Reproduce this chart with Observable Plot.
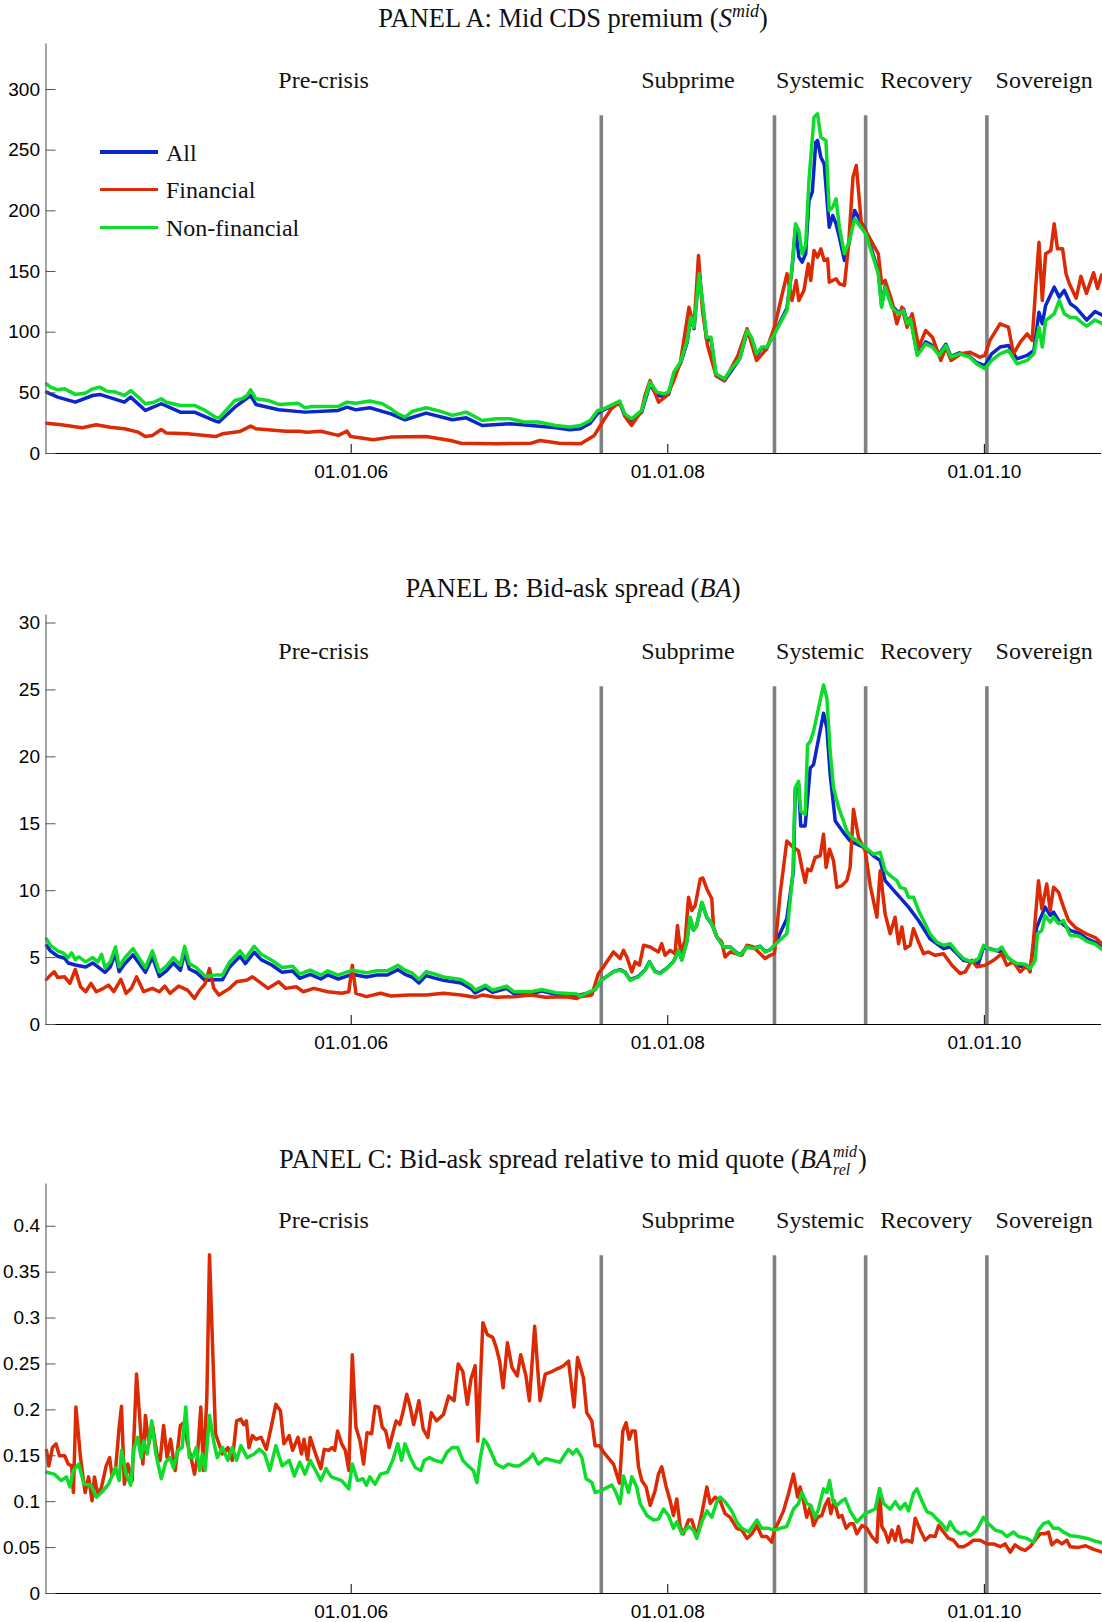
<!DOCTYPE html>
<html><head><meta charset="utf-8">
<script src="https://cdn.jsdelivr.net/npm/d3@7"></script>
<script src="https://cdn.jsdelivr.net/npm/@observablehq/plot@0.6"></script>
<style>
body{margin:0;background:#fff;}
#wrap{position:relative;width:1102px;height:1622px;overflow:hidden;background:#fff;}
.panel{position:absolute;left:0;width:1102px;height:483px;z-index:1;}
.title{position:absolute;z-index:3;left:45px;width:1056px;text-align:center;font-family:"Liberation Serif","Times New Roman",serif;font-size:26.5px;color:#111;line-height:30px;white-space:nowrap;}
.ss{display:inline-block;font-size:16px;line-height:18px;vertical-align:-7px;text-align:left;margin-left:1px;margin-right:1px;}
.ss span{display:block;height:18px;}
.leg{position:absolute;z-index:3;left:100px;height:30px;display:flex;align-items:center;font-family:"Liberation Serif","Times New Roman",serif;font-size:24px;color:#111;}
.leg .sw{width:58px;height:3.6px;margin-right:8px;}
</style></head><body><div id="wrap"></div>
<script>
// ---------- shared ----------
const xDomain = [2004.072, 2010.74];
const xTicks = [2006, 2008, 2010];
const xTickLabels = ["01.01.06", "01.01.08", "01.01.10"];
const periodBreaks = [2007.58, 2008.674, 2009.25, 2010.016];
const periodNames = ["Pre-crisis", "Subprime", "Systemic", "Recovery", "Sovereign"];
const seriesNames = ["All", "Financial", "Non-financial"];
const seriesColors = ["#0b26c9", "#dc2a04", "#0ddc2b"];

// ---------- PANEL A : mid CDS premium ----------
const yTicksA = [0, 50, 100, 150, 200, 250, 300];
const yTickLabelsA = ["0", "50", "100", "150", "200", "250", "300"];
const yMaxA = 337.5;
const A_all = [[2004.075,50.6],[2004.146,46.5],[2004.257,42.3],[2004.367,47.8],[2004.412,48.7],[2004.567,42.3],[2004.607,46.5],[2004.700,35.5],[2004.800,41.0],[2004.921,34.1],[2005.010,34.1],[2005.143,26.7],[2005.165,25.9],[2005.265,38.2],[2005.365,47.8],[2005.398,40.4],[2005.542,36.0],[2005.708,34.1],[2005.919,35.5],[2005.974,38.2],[2006.030,36.0],[2006.118,37.7],[2006.251,32.7],[2006.340,27.8],[2006.473,33.3],[2006.639,27.8],[2006.727,29.4],[2006.827,23.1],[2007.004,24.5],[2007.137,23.1],[2007.293,21.2],[2007.381,19.5],[2007.448,20.4],[2007.510,25],
[2007.557,33],[2007.581,35],[2007.696,42],[2007.728,31],[2007.771,27],[2007.835,34],[2007.888,57],[2007.931,48],[2007.974,47],[2008.006,49],[2008.038,65],[2008.080,74],[2008.123,92],[2008.145,112],[2008.166,103],[2008.198,150],[2008.219,124],[2008.245,94],[2008.273,94],[2008.305,64],[2008.358,60],[2008.401,68],[2008.454,78],[2008.501,100],[2008.529,95],[2008.561,81],[2008.593,87],[2008.625,87],[2008.674,99],[2008.753,120],[2008.785,152],[2008.807,186.5],[2008.828,162],[2008.849,157.7],[2008.871,164.6],[2008.892,208.5],[2008.913,215.4],[2008.935,256.6],[2008.946,258],[2008.967,244.2],[2008.988,238.7],[2009.020,186.5],[2009.042,196.2],[2009.063,189.3],[2009.084,178.3],[2009.116,159.1],[2009.148,175],[2009.180,200.3],[2009.251,183.8],[2009.330,150],[2009.351,122],[2009.373,138],[2009.415,122],[2009.458,116],[2009.490,119],[2009.512,108],[2009.533,112],[2009.576,82],[2009.629,92],[2009.672,89],[2009.715,82],[2009.757,90],[2009.789,80],[2009.843,83],[2009.907,80],[2009.950,75],[2010.003,72.5],[2010.046,82.2],[2010.099,87.7],[2010.152,89],[2010.206,78],[2010.270,80.8],[2010.313,84.9],[2010.345,116.5],[2010.366,106.9],[2010.387,122],[2010.441,137.1],[2010.473,128.9],[2010.505,134.4],[2010.543,123.4],[2010.580,120],[2010.647,110],[2010.699,117],[2010.745,114]];
const A_fin = [[2004.075,25.0],[2004.168,23.7],[2004.300,21.2],[2004.390,23.7],[2004.478,21.7],[2004.567,20.4],[2004.655,17.6],[2004.700,14.0],[2004.745,14.9],[2004.800,19.8],[2004.833,16.8],[2004.966,16.2],[2005.143,14.0],[2005.187,16.2],[2005.298,18.2],[2005.365,22.6],[2005.398,20.4],[2005.586,18.4],[2005.675,18.4],[2005.720,17.6],[2005.808,18.4],[2005.918,14.9],[2005.974,18.4],[2005.996,14.0],[2006.140,11.3],[2006.250,13.5],[2006.473,14.0],[2006.628,10.7],[2006.694,8.5],[2006.916,8.0],[2007.137,8.5],[2007.193,10.7],[2007.315,8.5],[2007.450,8.0],
[2007.536,14.9],[2007.581,24.5],[2007.643,36.8],[2007.696,42.3],[2007.739,28.6],[2007.771,23.1],[2007.835,35.5],[2007.856,47.8],[2007.888,60.2],[2007.942,42.3],[2007.995,47.8],[2008.038,60.2],[2008.080,75.3],[2008.134,120.6],[2008.166,104.1],[2008.194,163.2],[2008.219,117.9],[2008.251,89.0],[2008.305,64.3],[2008.358,60.2],[2008.443,80.8],[2008.501,102.8],[2008.561,76.7],[2008.625,86.3],[2008.674,104.1],[2008.753,148.1],[2008.785,126.1],[2008.811,142.6],[2008.828,126.1],[2008.860,134.4],[2008.888,156.3],[2008.903,142.6],[2008.924,167.3],[2008.946,161.8],[2008.967,168.7],[2008.988,159.1],[2009.010,160.5],[2009.020,141.2],[2009.063,144.0],[2009.084,139.9],[2009.116,138.5],[2009.142,171.4],[2009.170,227.8],[2009.191,237.4],[2009.223,189.3],[2009.266,179.7],[2009.330,164.6],[2009.351,139.9],[2009.373,142.6],[2009.415,126.1],[2009.447,106.9],[2009.479,120.6],[2009.512,104.1],[2009.544,115.1],[2009.586,87.7],[2009.629,101.4],[2009.672,95.9],[2009.725,76.7],[2009.757,87.7],[2009.789,76.7],[2009.853,82.2],[2009.907,83.5],[2009.971,79.4],[2010.003,80.8],[2010.035,93.2],[2010.099,106.9],[2010.152,104.1],[2010.184,82.2],[2010.227,91.8],[2010.270,98.6],[2010.302,93.2],[2010.323,134.4],[2010.345,174.2],[2010.366,126.1],[2010.387,164.6],[2010.420,167.3],[2010.441,189.3],[2010.462,168.7],[2010.494,168.7],[2010.516,148.1],[2010.537,139.9],[2010.580,128],[2010.610,146],[2010.645,132],[2010.690,149],[2010.715,136],[2010.740,147]];
const A_nonfin = [[2004.075,57.4],[2004.101,54.7],[2004.146,52.5],[2004.190,53.3],[2004.257,48.7],[2004.323,49.8],[2004.367,53.3],[2004.412,54.7],[2004.456,51.4],[2004.511,50.6],[2004.567,47.8],[2004.607,51.9],[2004.655,46.5],[2004.700,41.0],[2004.755,42.3],[2004.800,45.1],[2004.833,42.3],[2004.921,39.6],[2005.010,39.6],[2005.077,35.5],[2005.143,30.0],[2005.165,29.2],[2005.209,35.5],[2005.265,43.7],[2005.309,45.1],[2005.342,47.8],[2005.365,52.5],[2005.398,45.1],[2005.475,43.7],[2005.542,40.4],[2005.664,41.5],[2005.708,37.7],[2005.752,38.8],[2005.919,38.8],[2005.974,42.3],[2006.030,41.5],[2006.118,43.2],[2006.196,41.0],[2006.251,36.8],[2006.295,32.7],[2006.340,30.0],[2006.384,34.6],[2006.473,37.7],[2006.561,34.9],[2006.639,31.4],[2006.727,34.1],[2006.827,27.2],[2006.916,28.6],[2007.004,28.6],[2007.093,25.9],[2007.182,25.9],[2007.293,23.1],[2007.381,21.8],[2007.448,23.1],[2007.510,27.2],
[2007.557,35.5],[2007.581,36.0],[2007.696,43.2],[2007.728,32.7],[2007.771,28.6],[2007.835,35.5],[2007.888,58.8],[2007.931,50.6],[2007.974,49.2],[2008.006,50.6],[2008.038,67.0],[2008.080,75.3],[2008.123,93.2],[2008.145,112.4],[2008.166,104.1],[2008.198,148.1],[2008.219,126.1],[2008.245,95.9],[2008.273,95.9],[2008.305,65.7],[2008.358,61.6],[2008.401,69.8],[2008.454,78.0],[2008.501,101.4],[2008.529,95.9],[2008.561,82.2],[2008.593,87.7],[2008.625,87.7],[2008.674,98.6],[2008.753,117.9],[2008.785,153.6],[2008.807,189.3],[2008.828,183.8],[2008.849,164.6],[2008.871,171.4],[2008.892,225.0],[2008.924,277.2],[2008.946,280.0],[2008.967,260.7],[2008.999,258.0],[2009.020,200.3],[2009.042,203.0],[2009.063,209.9],[2009.084,186.5],[2009.116,164.6],[2009.148,175.6],[2009.180,193.4],[2009.251,181.0],[2009.330,148.1],[2009.351,120.6],[2009.373,137.1],[2009.415,120.6],[2009.458,115.1],[2009.490,117.9],[2009.512,106.9],[2009.533,111.0],[2009.576,80.8],[2009.629,90.4],[2009.672,87.7],[2009.715,80.8],[2009.757,89.0],[2009.789,79.4],[2009.843,82.2],[2009.907,79.4],[2009.950,73.9],[2010.003,69.8],[2010.046,76.7],[2010.099,82.2],[2010.152,84.9],[2010.206,73.9],[2010.270,76.7],[2010.313,82.2],[2010.345,104.1],[2010.366,87.7],[2010.387,109.6],[2010.441,115.1],[2010.473,126.1],[2010.505,115.1],[2010.543,112],[2010.580,112],[2010.614,108],[2010.647,105],[2010.699,110],[2010.745,107]];

// ---------- PANEL B : bid-ask spread ----------
const yTicksB = [0, 5, 10, 15, 20, 25, 30];
const yTickLabelsB = ["0", "5", "10", "15", "20", "25", "30"];
const yMaxB = 30.6;
const B_all = [[2004.075,5.9],[2004.100,5.5],[2004.146,5.1],[2004.190,4.95],[2004.212,4.6],[2004.257,4.45],[2004.323,4.3],[2004.367,4.6],[2004.400,4.3],[2004.445,3.9],[2004.478,4.3],[2004.511,5.3],[2004.534,3.95],[2004.567,4.5],[2004.622,5.2],[2004.655,4.65],[2004.700,3.9],[2004.744,5.05],[2004.788,3.6],[2004.833,4.0],[2004.877,4.6],[2004.921,4.05],[2004.948,5.4],[2004.977,4.15],[2005.021,3.9],[2005.077,3.3],[2005.143,3.35],[2005.187,3.35],[2005.232,4.3],[2005.298,5.1],[2005.331,4.55],[2005.387,5.4],[2005.431,4.85],[2005.498,4.45],[2005.564,3.9],[2005.630,4.0],[2005.675,3.45],[2005.741,3.75],[2005.808,3.4],[2005.852,3.7],[2005.918,3.4],[2006.007,3.75],[2006.096,3.55],[2006.162,3.7],[2006.229,3.7],[2006.295,4.1],[2006.340,3.75],[2006.384,3.55],[2006.428,3.1],[2006.473,3.65],[2006.517,3.5],[2006.583,3.3],[2006.694,3.1],[2006.761,2.65],[2006.783,2.35],[2006.849,2.75],[2006.893,2.4],[2006.982,2.7],[2007.027,2.3],[2007.137,2.3],[2007.204,2.5],[2007.293,2.25],[2007.425,2.15],[2007.510,2.4],
[2007.541,2.6],[2007.579,3.3],[2007.657,3.95],[2007.699,4.1],[2007.731,3.9],[2007.762,3.35],[2007.815,3.6],[2007.857,4.1],[2007.884,4.7],[2007.920,3.95],[2007.952,3.85],[2007.994,4.2],[2008.036,4.7],[2008.068,5.55],[2008.089,4.85],[2008.120,6.2],[2008.141,8.0],[2008.162,7.05],[2008.183,7.4],[2008.215,9.1],[2008.247,8.0],[2008.278,7.5],[2008.310,6.55],[2008.352,5.8],[2008.394,5.8],[2008.426,5.45],[2008.457,5.2],[2008.500,5.8],[2008.541,5.7],[2008.584,5.85],[2008.615,5.45],[2008.647,5.6],[2008.674,5.9],[2008.752,7.9],[2008.794,11.5],[2008.805,17.5],[2008.826,18.0],[2008.840,14.84],[2008.868,14.84],[2008.900,19.17],[2008.921,19.42],[2008.984,23.26],[2009.005,22.15],[2009.026,18.68],[2009.058,15.21],[2009.110,14.34],[2009.152,13.72],[2009.194,13.47],[2009.247,13.2],[2009.300,12.6],[2009.342,12.24],[2009.373,10.75],[2009.447,9.76],[2009.521,8.77],[2009.584,7.77],[2009.657,6.41],[2009.742,5.67],[2009.784,5.8],[2009.868,4.8],[2009.963,4.55],[2009.995,5.79],[2010.110,5.42],[2010.205,4.43],[2010.289,4.18],[2010.331,7.28],[2010.384,8.77],[2010.416,8.15],[2010.437,8.4],[2010.469,7.77],[2010.542,7.03],[2010.600,6.8],[2010.650,6.4],[2010.745,5.9]];
const B_fin = [[2004.075,3.37],[2004.100,3.69],[2004.124,3.94],[2004.146,3.51],[2004.190,3.56],[2004.223,3.07],[2004.257,4.11],[2004.290,2.82],[2004.323,2.45],[2004.356,3.07],[2004.390,2.45],[2004.434,2.7],[2004.467,2.94],[2004.500,2.45],[2004.545,3.37],[2004.578,2.33],[2004.611,2.7],[2004.644,3.56],[2004.689,2.45],[2004.744,2.7],[2004.788,2.45],[2004.822,2.87],[2004.855,2.33],[2004.910,2.87],[2004.966,2.57],[2005.010,1.95],[2005.043,2.57],[2005.076,3.02],[2005.105,4.18],[2005.132,2.7],[2005.165,2.2],[2005.232,2.7],[2005.276,3.19],[2005.342,3.32],[2005.376,3.56],[2005.420,3.19],[2005.475,2.7],[2005.542,3.19],[2005.586,2.7],[2005.653,2.82],[2005.697,2.45],[2005.764,2.7],[2005.852,2.45],[2005.940,2.33],[2005.985,2.45],[2006.007,4.43],[2006.030,2.33],[2006.096,2.08],[2006.185,2.33],[2006.251,2.13],[2006.362,2.2],[2006.473,2.2],[2006.583,2.33],[2006.694,2.2],[2006.783,2.03],[2006.827,2.2],[2006.916,2.03],[2007.027,2.08],[2007.137,2.2],[2007.226,2.03],[2007.359,2.08],[2007.425,1.95],
[2007.446,2.08],[2007.520,2.2],[2007.562,3.81],[2007.594,4.31],[2007.657,5.42],[2007.699,4.93],[2007.720,5.54],[2007.741,5.05],[2007.773,3.93],[2007.794,4.68],[2007.821,4.43],[2007.847,5.92],[2007.889,5.79],[2007.941,5.42],[2007.962,6.04],[2007.983,5.17],[2008.015,5.54],[2008.046,5.29],[2008.061,7.4],[2008.082,5.42],[2008.110,6.29],[2008.131,9.51],[2008.152,8.52],[2008.173,8.89],[2008.205,10.87],[2008.221,10.95],[2008.247,10.13],[2008.278,9.39],[2008.289,7.28],[2008.310,6.54],[2008.341,6.16],[2008.362,5.05],[2008.394,5.42],[2008.436,5.29],[2008.468,5.17],[2008.500,5.92],[2008.541,5.79],[2008.584,5.29],[2008.615,4.93],[2008.647,5.17],[2008.674,5.29],[2008.710,9.76],[2008.752,13.72],[2008.794,13.23],[2008.826,12.98],[2008.847,11.74],[2008.868,10.62],[2008.883,11.61],[2008.904,11.49],[2008.931,12.48],[2008.963,12.61],[2008.984,14.22],[2009.000,11.74],[2009.022,13.1],[2009.047,12.24],[2009.068,10.25],[2009.100,10.38],[2009.131,10.75],[2009.152,11.74],[2009.173,16.08],[2009.205,13.97],[2009.247,12.98],[2009.279,10.38],[2009.321,8.02],[2009.342,11.49],[2009.373,8.27],[2009.405,6.78],[2009.436,8.02],[2009.458,6.04],[2009.479,7.28],[2009.500,5.67],[2009.531,5.92],[2009.552,7.16],[2009.584,6.16],[2009.616,5.29],[2009.647,5.42],[2009.689,5.17],[2009.742,5.29],[2009.795,4.43],[2009.847,3.81],[2009.879,3.93],[2009.921,4.8],[2009.953,4.31],[2010.005,4.43],[2010.058,4.8],[2010.110,5.29],[2010.142,4.43],[2010.184,4.68],[2010.226,3.93],[2010.268,4.43],[2010.289,3.93],[2010.310,6.29],[2010.342,10.75],[2010.363,8.64],[2010.394,10.5],[2010.416,8.52],[2010.437,10.25],[2010.469,9.88],[2010.500,8.77],[2010.532,7.77],[2010.580,7.2],[2010.640,6.8],[2010.700,6.5],[2010.745,6.0]];
const B_nonfin = [[2004.075,6.4],[2004.101,5.9],[2004.146,5.5],[2004.179,5.35],[2004.212,5.0],[2004.234,5.35],[2004.257,4.85],[2004.279,5.05],[2004.323,4.68],[2004.367,5.0],[2004.400,4.68],[2004.423,5.25],[2004.445,4.26],[2004.478,4.68],[2004.511,5.79],[2004.534,4.31],[2004.567,4.93],[2004.622,5.67],[2004.655,5.05],[2004.700,4.26],[2004.744,5.5],[2004.788,3.94],[2004.833,4.36],[2004.877,5.0],[2004.921,4.43],[2004.948,5.84],[2004.977,4.55],[2005.021,4.26],[2005.077,3.61],[2005.143,3.69],[2005.187,3.69],[2005.232,4.68],[2005.298,5.5],[2005.331,4.93],[2005.387,5.84],[2005.431,5.25],[2005.498,4.8],[2005.564,4.26],[2005.630,4.36],[2005.675,3.76],[2005.741,4.06],[2005.808,3.69],[2005.852,4.01],[2005.918,3.69],[2006.007,4.06],[2006.096,3.86],[2006.162,4.01],[2006.229,4.01],[2006.295,4.43],[2006.340,4.06],[2006.384,3.86],[2006.428,3.37],[2006.473,3.94],[2006.517,3.81],[2006.583,3.56],[2006.694,3.37],[2006.761,2.87],[2006.783,2.57],[2006.849,2.94],[2006.893,2.57],[2006.982,2.87],[2007.027,2.45],[2007.137,2.45],[2007.204,2.62],[2007.293,2.37],[2007.425,2.28],
[2007.446,2.12],[2007.510,2.45],[2007.541,2.62],[2007.579,3.3],[2007.657,3.93],[2007.699,4.06],[2007.731,3.88],[2007.762,3.3],[2007.815,3.56],[2007.857,4.06],[2007.884,4.68],[2007.920,3.93],[2007.952,3.81],[2007.994,4.18],[2008.036,4.68],[2008.068,5.54],[2008.089,4.8],[2008.120,6.16],[2008.141,8.02],[2008.162,7.03],[2008.183,7.4],[2008.215,9.14],[2008.247,8.02],[2008.278,7.53],[2008.310,6.54],[2008.352,5.79],[2008.394,5.79],[2008.426,5.42],[2008.457,5.17],[2008.500,5.79],[2008.541,5.67],[2008.584,5.84],[2008.615,5.42],[2008.647,5.6],[2008.674,5.92],[2008.752,6.78],[2008.790,11.24],[2008.805,17.69],[2008.826,18.18],[2008.840,15.95],[2008.868,15.7],[2008.883,20.9],[2008.900,21.16],[2008.921,21.9],[2008.952,23.63],[2008.984,25.37],[2009.005,24.38],[2009.026,20.41],[2009.047,17.69],[2009.079,16.2],[2009.110,15.21],[2009.131,14.47],[2009.163,13.97],[2009.194,13.72],[2009.247,13.23],[2009.300,12.73],[2009.342,12.86],[2009.373,11.49],[2009.405,11.12],[2009.447,10.75],[2009.468,10.25],[2009.500,10.13],[2009.521,9.51],[2009.552,9.51],[2009.584,8.52],[2009.626,7.53],[2009.657,6.78],[2009.700,6.16],[2009.742,5.92],[2009.784,6.04],[2009.826,5.42],[2009.868,4.93],[2009.921,4.68],[2009.963,4.93],[2009.995,5.92],[2010.026,5.67],[2010.079,5.5],[2010.110,5.79],[2010.153,4.93],[2010.205,4.55],[2010.258,4.5],[2010.289,4.18],[2010.321,4.8],[2010.336,6.78],[2010.363,7.03],[2010.384,8.15],[2010.416,7.65],[2010.437,8.02],[2010.469,7.53],[2010.500,7.77],[2010.542,6.66],[2010.600,6.6],[2010.650,6.2],[2010.700,6.0],[2010.745,5.6]];

// ---------- PANEL C : relative bid-ask spread ----------
const yTicksC = [0, 0.05, 0.1, 0.15, 0.2, 0.25, 0.3, 0.35, 0.4];
const yTickLabelsC = ["0", "0.05", "0.1", "0.15", "0.2", "0.25", "0.3", "0.35", "0.4"];
const yMaxC = 0.446;
const C_fin = [[2004.075,0.156],[2004.090,0.139],[2004.113,0.159],[2004.135,0.163],[2004.157,0.150],[2004.190,0.150],[2004.212,0.141],[2004.234,0.139],[2004.245,0.110],[2004.261,0.203],[2004.290,0.148],[2004.319,0.110],[2004.341,0.127],[2004.363,0.101],[2004.378,0.127],[2004.400,0.107],[2004.423,0.116],[2004.452,0.139],[2004.474,0.148],[2004.489,0.128],[2004.511,0.134],[2004.534,0.181],[2004.549,0.204],[2004.567,0.119],[2004.589,0.141],[2004.616,0.123],[2004.644,0.239],[2004.667,0.184],[2004.684,0.141],[2004.700,0.194],[2004.722,0.163],[2004.744,0.184],[2004.773,0.152],[2004.793,0.145],[2004.815,0.183],[2004.837,0.148],[2004.859,0.168],[2004.888,0.134],[2004.921,0.183],[2004.944,0.186],[2004.966,0.163],[2004.988,0.148],[2005.010,0.130],[2005.028,0.148],[2005.050,0.203],[2005.066,0.134],[2005.088,0.213],[2005.105,0.369],[2005.121,0.286],[2005.143,0.174],[2005.187,0.152],[2005.221,0.159],[2005.249,0.145],[2005.276,0.188],[2005.303,0.190],[2005.320,0.184],[2005.338,0.188],[2005.354,0.159],[2005.376,0.172],[2005.398,0.168],[2005.431,0.170],[2005.464,0.157],[2005.498,0.184],[2005.524,0.206],[2005.553,0.199],[2005.575,0.163],[2005.608,0.172],[2005.630,0.156],[2005.664,0.170],[2005.686,0.152],[2005.702,0.168],[2005.724,0.146],[2005.741,0.170],[2005.775,0.152],[2005.808,0.136],[2005.830,0.157],[2005.857,0.156],[2005.879,0.159],[2005.896,0.156],[2005.914,0.177],[2005.940,0.163],[2005.963,0.156],[2005.985,0.134],[2006.007,0.260],[2006.030,0.181],[2006.056,0.166],[2006.078,0.141],[2006.100,0.175],[2006.129,0.174],[2006.151,0.204],[2006.174,0.203],[2006.196,0.181],[2006.218,0.177],[2006.240,0.159],[2006.262,0.174],[2006.284,0.188],[2006.307,0.184],[2006.329,0.199],[2006.351,0.217],[2006.373,0.203],[2006.395,0.184],[2006.428,0.210],[2006.455,0.179],[2006.484,0.170],[2006.506,0.197],[2006.539,0.188],[2006.583,0.195],[2006.616,0.215],[2006.650,0.210],[2006.676,0.250],[2006.705,0.242],[2006.734,0.206],[2006.756,0.233],[2006.783,0.248],[2006.800,0.166],[2006.832,0.295],[2006.860,0.282],[2006.894,0.279],[2006.916,0.268],[2006.938,0.253],[2006.960,0.224],[2006.987,0.273],[2007.016,0.246],[2007.049,0.237],[2007.071,0.260],[2007.104,0.237],[2007.126,0.210],[2007.159,0.291],[2007.193,0.210],[2007.226,0.239],[2007.259,0.241],[2007.293,0.244],
[2007.320,0.246],[2007.341,0.248],[2007.373,0.253],[2007.408,0.203],[2007.430,0.257],[2007.467,0.235],[2007.488,0.197],[2007.520,0.188],[2007.541,0.161],[2007.569,0.161],[2007.594,0.154],[2007.657,0.141],[2007.695,0.120],[2007.716,0.177],[2007.737,0.186],[2007.756,0.168],[2007.773,0.177],[2007.794,0.177],[2007.815,0.138],[2007.836,0.123],[2007.863,0.116],[2007.889,0.096],[2007.920,0.112],[2007.941,0.130],[2007.962,0.138],[2007.990,0.116],[2008.015,0.101],[2008.036,0.085],[2008.057,0.103],[2008.078,0.073],[2008.099,0.065],[2008.131,0.080],[2008.152,0.080],[2008.183,0.062],[2008.215,0.087],[2008.247,0.116],[2008.268,0.098],[2008.299,0.105],[2008.331,0.101],[2008.362,0.087],[2008.394,0.083],[2008.436,0.071],[2008.468,0.069],[2008.500,0.060],[2008.531,0.065],[2008.563,0.074],[2008.594,0.062],[2008.626,0.062],[2008.657,0.056],[2008.674,0.069],[2008.700,0.078],[2008.731,0.090],[2008.763,0.109],[2008.794,0.130],[2008.820,0.105],[2008.836,0.116],[2008.857,0.101],[2008.878,0.083],[2008.899,0.094],[2008.921,0.074],[2008.946,0.083],[2008.973,0.085],[2008.994,0.096],[2009.015,0.103],[2009.030,0.087],[2009.051,0.101],[2009.079,0.083],[2009.100,0.085],[2009.127,0.071],[2009.152,0.076],[2009.173,0.076],[2009.194,0.065],[2009.226,0.074],[2009.258,0.071],[2009.289,0.062],[2009.321,0.056],[2009.338,0.114],[2009.352,0.073],[2009.373,0.067],[2009.394,0.056],[2009.416,0.069],[2009.437,0.058],[2009.457,0.073],[2009.479,0.056],[2009.510,0.058],[2009.542,0.056],[2009.563,0.082],[2009.595,0.069],[2009.626,0.058],[2009.658,0.063],[2009.689,0.062],[2009.711,0.074],[2009.742,0.067],[2009.774,0.060],[2009.805,0.058],[2009.837,0.051],[2009.868,0.051],[2009.900,0.054],[2009.931,0.058],[2009.974,0.058],[2010.016,0.054],[2010.058,0.054],[2010.100,0.051],[2010.131,0.054],[2010.163,0.045],[2010.194,0.053],[2010.226,0.049],[2010.258,0.047],[2010.289,0.051],[2010.321,0.058],[2010.352,0.065],[2010.384,0.065],[2010.405,0.067],[2010.426,0.053],[2010.458,0.058],[2010.490,0.054],[2010.521,0.058],[2010.542,0.051],[2010.590,0.050],[2010.640,0.052],[2010.690,0.048],[2010.745,0.045]];
const C_nonfin = [[2004.075,0.132],[2004.124,0.130],[2004.168,0.123],[2004.201,0.127],[2004.223,0.116],[2004.245,0.134],[2004.279,0.141],[2004.312,0.119],[2004.356,0.118],[2004.390,0.105],[2004.423,0.110],[2004.467,0.119],[2004.511,0.137],[2004.534,0.123],[2004.549,0.156],[2004.578,0.130],[2004.607,0.118],[2004.629,0.159],[2004.651,0.170],[2004.673,0.148],[2004.689,0.166],[2004.711,0.152],[2004.740,0.188],[2004.766,0.152],[2004.800,0.125],[2004.828,0.143],[2004.855,0.148],[2004.877,0.137],[2004.906,0.156],[2004.932,0.159],[2004.955,0.203],[2004.977,0.148],[2004.999,0.148],[2005.021,0.159],[2005.043,0.134],[2005.059,0.152],[2005.077,0.134],[2005.105,0.194],[2005.132,0.165],[2005.154,0.148],[2005.187,0.159],[2005.221,0.145],[2005.249,0.159],[2005.276,0.145],[2005.303,0.161],[2005.342,0.148],[2005.387,0.152],[2005.420,0.157],[2005.453,0.152],[2005.486,0.134],[2005.524,0.161],[2005.564,0.139],[2005.608,0.145],[2005.641,0.128],[2005.675,0.143],[2005.708,0.130],[2005.741,0.145],[2005.775,0.134],[2005.808,0.123],[2005.841,0.136],[2005.874,0.127],[2005.940,0.123],[2005.985,0.114],[2006.007,0.141],[2006.040,0.123],[2006.074,0.125],[2006.096,0.118],[2006.118,0.127],[2006.151,0.119],[2006.185,0.130],[2006.229,0.132],[2006.262,0.145],[2006.295,0.163],[2006.318,0.145],[2006.340,0.163],[2006.373,0.148],[2006.406,0.137],[2006.440,0.134],[2006.462,0.145],[2006.495,0.148],[2006.528,0.145],[2006.572,0.143],[2006.606,0.154],[2006.639,0.159],[2006.672,0.159],[2006.705,0.145],[2006.739,0.139],[2006.772,0.134],[2006.794,0.121],[2006.816,0.148],[2006.838,0.168],[2006.860,0.163],[2006.894,0.150],[2006.916,0.141],[2006.960,0.137],[2006.993,0.141],[2007.027,0.139],[2007.060,0.139],[2007.093,0.143],[2007.126,0.147],[2007.148,0.152],[2007.182,0.141],[2007.226,0.147],[2007.270,0.145],
[2007.320,0.143],[2007.345,0.150],[2007.373,0.157],[2007.400,0.152],[2007.425,0.157],[2007.457,0.148],[2007.484,0.125],[2007.520,0.121],[2007.541,0.110],[2007.579,0.112],[2007.646,0.118],[2007.667,0.112],[2007.699,0.098],[2007.720,0.128],[2007.752,0.110],[2007.773,0.127],[2007.804,0.116],[2007.825,0.098],[2007.868,0.085],[2007.910,0.080],[2007.941,0.081],[2007.973,0.092],[2008.004,0.085],[2008.036,0.071],[2008.057,0.078],[2008.089,0.065],[2008.131,0.073],[2008.162,0.069],[2008.183,0.060],[2008.215,0.078],[2008.247,0.090],[2008.278,0.083],[2008.310,0.100],[2008.331,0.105],[2008.362,0.100],[2008.404,0.090],[2008.436,0.078],[2008.468,0.071],[2008.510,0.067],[2008.563,0.080],[2008.594,0.071],[2008.636,0.071],[2008.674,0.069],[2008.710,0.071],[2008.752,0.073],[2008.794,0.092],[2008.826,0.098],[2008.847,0.110],[2008.878,0.098],[2008.904,0.096],[2008.931,0.083],[2008.952,0.092],[2008.984,0.114],[2009.005,0.110],[2009.022,0.123],[2009.043,0.101],[2009.068,0.096],[2009.100,0.101],[2009.121,0.103],[2009.152,0.090],[2009.194,0.078],[2009.247,0.087],[2009.310,0.092],[2009.338,0.114],[2009.363,0.098],[2009.405,0.092],[2009.437,0.100],[2009.468,0.092],[2009.500,0.098],[2009.521,0.090],[2009.552,0.109],[2009.574,0.114],[2009.605,0.101],[2009.637,0.089],[2009.668,0.087],[2009.700,0.081],[2009.731,0.076],[2009.763,0.069],[2009.784,0.078],[2009.815,0.069],[2009.847,0.065],[2009.879,0.067],[2009.911,0.063],[2009.952,0.069],[2009.994,0.083],[2010.026,0.076],[2010.069,0.069],[2010.110,0.067],[2010.142,0.062],[2010.184,0.067],[2010.216,0.062],[2010.268,0.060],[2010.310,0.056],[2010.342,0.069],[2010.373,0.076],[2010.405,0.078],[2010.437,0.071],[2010.469,0.071],[2010.500,0.067],[2010.542,0.063],[2010.590,0.062],[2010.650,0.060],[2010.700,0.057],[2010.745,0.055]];

// ---------- drawing ----------
const wrap = document.getElementById("wrap");
const periodEdges = [xDomain[0], ...periodBreaks, xDomain[1]];
const periodMids = periodNames.map((_, i) => (periodEdges[i] + periodEdges[i + 1]) / 2);
const serifFont = "'Liberation Serif','Times New Roman',serif";

function panel({top, titleTop, titleHTML, yMax, yTicks, yTickLabels, series}) {
  const div = document.createElement("div");
  div.className = "panel";
  div.style.top = top + "px";
  const lines = series.map(s => Plot.line(s.data, {x: d => d[0], y: d => d[1], stroke: s.color, strokeWidth: 3.5, strokeLinejoin: "round"}));
  const chart = Plot.plot({
    width: 1102, height: 483,
    marginTop: 43.5, marginBottom: 30, marginLeft: 45.5, marginRight: 1,
    x: {domain: xDomain},
    y: {domain: [0, yMax]},
    style: {fontFamily: "'Liberation Sans', Arial, sans-serif", fontSize: "19px", color: "black", background: "transparent", overflow: "visible"},
    marks: [
      Plot.ruleX(periodBreaks, {y1: 0, y2: yMax * 0.825, stroke: "#808080", strokeWidth: 3.6}),
      ...lines,
      Plot.text(periodNames, {x: (d, i) => periodMids[i], frameAnchor: "top", dy: 27, fontFamily: serifFont, fontSize: 24, fill: "#111"}),
      Plot.ruleX([xDomain[0]], {stroke: "#6a6a6a", strokeWidth: 1.2}),
      Plot.ruleY([0], {stroke: "black", strokeWidth: 1.2}),
      Plot.axisY({ticks: yTicks, tickFormat: (d) => yTickLabels[yTicks.indexOf(d)], tickSize: -10, tickPadding: 16, stroke: "#555", fill: "black"}),
      Plot.axisX({ticks: xTicks, tickFormat: (d) => xTickLabels[xTicks.indexOf(d)], tickSize: -9, tickPadding: 19.5, stroke: "black", fill: "black"})
    ]
  });
  div.appendChild(chart);
  wrap.appendChild(div);

  const t = document.createElement("div");
  t.className = "title";
  t.style.top = titleTop + "px";
  t.innerHTML = titleHTML;
  wrap.appendChild(t);
  return div;
}

panel({top: 0, titleTop: 3, titleHTML: "PANEL A: Mid CDS premium (<i>S</i><sup style=\"font-size:18px;vertical-align:10px;line-height:0\"><i>mid</i></sup>)",
  yMax: yMaxA, yTicks: yTicksA, yTickLabels: yTickLabelsA,
  series: [{data: A_all, color: seriesColors[0]}, {data: A_fin, color: seriesColors[1]}, {data: A_nonfin, color: seriesColors[2]}]});
panel({top: 571, titleTop: 573, titleHTML: "PANEL B: Bid-ask spread (<i>BA</i>)",
  yMax: yMaxB, yTicks: yTicksB, yTickLabels: yTickLabelsB,
  series: [{data: B_all, color: seriesColors[0]}, {data: B_fin, color: seriesColors[1]}, {data: B_nonfin, color: seriesColors[2]}]});
panel({top: 1140, titleTop: 1143, titleHTML: "PANEL C: Bid-ask spread relative to mid quote (<i>BA</i><span class=\"ss\"><span><i>mid</i></span><span><i>rel</i></span></span>)",
  yMax: yMaxC, yTicks: yTicksC, yTickLabels: yTickLabelsC,
  series: [{data: C_fin, color: seriesColors[1]}, {data: C_nonfin, color: seriesColors[2]}]});

// legend (panel A)
const legendY = [152, 189.5, 227.7];
seriesNames.forEach((name, i) => {
  const row = document.createElement("div");
  row.className = "leg";
  row.style.top = (legendY[i] - 15) + "px";
  row.innerHTML = `<div class="sw" style="background:${seriesColors[i]}"></div><span style="position:relative;top:1px">${name}</span>`;
  wrap.appendChild(row);
});
</script></body></html>
